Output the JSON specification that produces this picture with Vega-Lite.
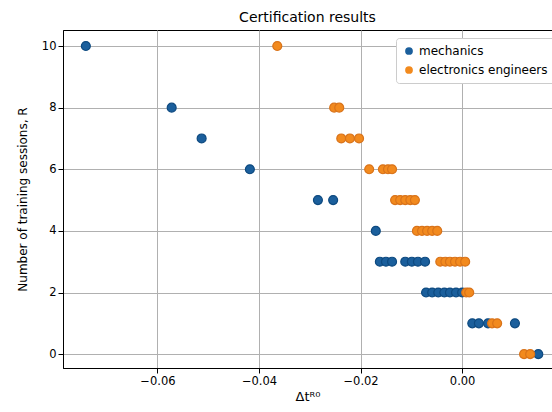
{
  "$schema": "https://vega.github.io/schema/vega-lite/v6.json",
  "width": 489,
  "height": 338,
  "autosize": {"type": "none"},
  "padding": {"left": 63, "top": 30, "right": 0, "bottom": 44},
  "background": "white",
  "title": {"text": "Certification results", "fontSize": 14, "font": "DejaVu Sans", "fontWeight": "normal", "color": "black", "offset": 5},
  "config": {
    "font": "DejaVu Sans",
    "view": {"stroke": "black", "strokeWidth": 1}
  },
  "data": {"values": [
    {"dt": -0.0741, "R": 10, "group": "mechanics"},
    {"dt": -0.0572, "R": 8, "group": "mechanics"},
    {"dt": -0.0513, "R": 7, "group": "mechanics"},
    {"dt": -0.0418, "R": 6, "group": "mechanics"},
    {"dt": -0.0284, "R": 5, "group": "mechanics"},
    {"dt": -0.0254, "R": 5, "group": "mechanics"},
    {"dt": -0.0170, "R": 4, "group": "mechanics"},
    {"dt": -0.0162, "R": 3, "group": "mechanics"},
    {"dt": -0.0150, "R": 3, "group": "mechanics"},
    {"dt": -0.0138, "R": 3, "group": "mechanics"},
    {"dt": -0.0112, "R": 3, "group": "mechanics"},
    {"dt": -0.0099, "R": 3, "group": "mechanics"},
    {"dt": -0.0087, "R": 3, "group": "mechanics"},
    {"dt": -0.0073, "R": 3, "group": "mechanics"},
    {"dt": -0.0071, "R": 2, "group": "mechanics"},
    {"dt": -0.0059, "R": 2, "group": "mechanics"},
    {"dt": -0.0047, "R": 2, "group": "mechanics"},
    {"dt": -0.0035, "R": 2, "group": "mechanics"},
    {"dt": -0.0024, "R": 2, "group": "mechanics"},
    {"dt": -0.0012, "R": 2, "group": "mechanics"},
    {"dt": 0.0000, "R": 2, "group": "mechanics"},
    {"dt": 0.0020, "R": 1, "group": "mechanics"},
    {"dt": 0.0033, "R": 1, "group": "mechanics"},
    {"dt": 0.0051, "R": 1, "group": "mechanics"},
    {"dt": 0.0104, "R": 1, "group": "mechanics"},
    {"dt": 0.0150, "R": 0, "group": "mechanics"},
    {"dt": -0.0364, "R": 10, "group": "electronics engineers"},
    {"dt": -0.0252, "R": 8, "group": "electronics engineers"},
    {"dt": -0.0242, "R": 8, "group": "electronics engineers"},
    {"dt": -0.0238, "R": 7, "group": "electronics engineers"},
    {"dt": -0.0221, "R": 7, "group": "electronics engineers"},
    {"dt": -0.0203, "R": 7, "group": "electronics engineers"},
    {"dt": -0.0183, "R": 6, "group": "electronics engineers"},
    {"dt": -0.0156, "R": 6, "group": "electronics engineers"},
    {"dt": -0.0146, "R": 6, "group": "electronics engineers"},
    {"dt": -0.0138, "R": 6, "group": "electronics engineers"},
    {"dt": -0.0132, "R": 5, "group": "electronics engineers"},
    {"dt": -0.0122, "R": 5, "group": "electronics engineers"},
    {"dt": -0.0112, "R": 5, "group": "electronics engineers"},
    {"dt": -0.0102, "R": 5, "group": "electronics engineers"},
    {"dt": -0.0093, "R": 5, "group": "electronics engineers"},
    {"dt": -0.0089, "R": 4, "group": "electronics engineers"},
    {"dt": -0.0079, "R": 4, "group": "electronics engineers"},
    {"dt": -0.0069, "R": 4, "group": "electronics engineers"},
    {"dt": -0.0059, "R": 4, "group": "electronics engineers"},
    {"dt": -0.0049, "R": 4, "group": "electronics engineers"},
    {"dt": -0.0043, "R": 3, "group": "electronics engineers"},
    {"dt": -0.0033, "R": 3, "group": "electronics engineers"},
    {"dt": -0.0024, "R": 3, "group": "electronics engineers"},
    {"dt": -0.0014, "R": 3, "group": "electronics engineers"},
    {"dt": -0.0004, "R": 3, "group": "electronics engineers"},
    {"dt": 0.0006, "R": 3, "group": "electronics engineers"},
    {"dt": 0.0008, "R": 2, "group": "electronics engineers"},
    {"dt": 0.0014, "R": 2, "group": "electronics engineers"},
    {"dt": 0.0059, "R": 1, "group": "electronics engineers"},
    {"dt": 0.0069, "R": 1, "group": "electronics engineers"},
    {"dt": 0.0122, "R": 0, "group": "electronics engineers"},
    {"dt": 0.0134, "R": 0, "group": "electronics engineers"}
  ]},
  "mark": {"type": "circle", "size": 80, "opacity": 1, "strokeWidth": 1.2},
  "encoding": {
    "x": {
      "field": "dt", "type": "quantitative",
      "scale": {"domain": [-0.0786, 0.0177], "nice": false, "zero": false},
      "axis": {
        "title": "Δtᴿ⁰", "titleFontSize": 13, "titleFontWeight": "normal", "titleColor": "black",
        "values": [-0.06, -0.04, -0.02, 0.0],
        "format": ".2f",
        "labelExpr": "replace(datum.label, '-', '−')",
        "labelFontSize": 11.5, "labelColor": "black",
        "domainColor": "black", "tickColor": "black", "tickSize": 5,
        "gridColor": "#b0b0b0", "gridWidth": 1, "gridOpacity": 1,
        "titlePadding": 4
      }
    },
    "y": {
      "field": "R", "type": "quantitative",
      "scale": {"domain": [-0.45, 10.52], "nice": false, "zero": false},
      "axis": {
        "title": "Number of training sessions, R", "titleFontSize": 12, "titleFontWeight": "normal", "titleColor": "black",
        "values": [0, 2, 4, 6, 8, 10],
        "format": "d",
        "labelFontSize": 11.5, "labelColor": "black",
        "domainColor": "black", "tickColor": "black", "tickSize": 5,
        "gridColor": "#b0b0b0", "gridWidth": 1, "gridOpacity": 1,
        "titlePadding": 12
      }
    },
    "stroke": {
      "field": "group", "type": "nominal",
      "scale": {"domain": ["mechanics", "electronics engineers"], "range": ["#0e4a80", "#d9731a"]},
      "legend": null
    },
    "color": {
      "field": "group", "type": "nominal",
      "scale": {"domain": ["mechanics", "electronics engineers"], "range": ["#1b5f9c", "#f28a1e"]},
      "legend": {
        "title": null, "orient": "none", "legendX": 333, "legendY": 8,
        "labelFontSize": 12, "labelColor": "black",
        "symbolType": "circle", "symbolSize": 60, "symbolStrokeWidth": 0,
        "strokeColor": "#cccccc", "fillColor": "white", "padding": 7, "cornerRadius": 3,
        "rowPadding": 7
      }
    }
  }
}
